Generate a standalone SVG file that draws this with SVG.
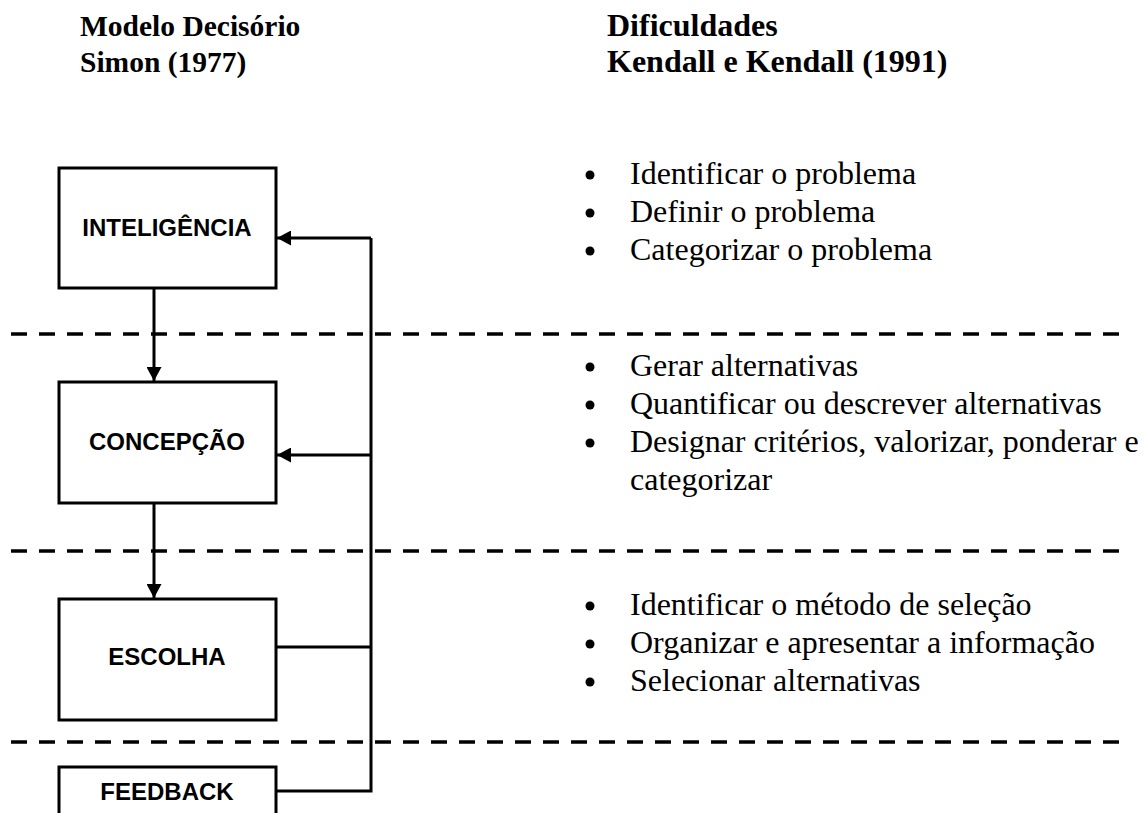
<svg xmlns="http://www.w3.org/2000/svg" width="1145" height="813" viewBox="0 0 1145 813">
<style>
.hdr{font-family:"Liberation Serif","Times New Roman",serif;font-weight:bold;font-size:32px;fill:#000}
.hdl{font-size:29.5px}
.bul{font-family:"Liberation Serif","Times New Roman",serif;font-size:32px;fill:#000}
.lbl{font-family:"Liberation Sans",Arial,sans-serif;font-weight:bold;font-size:24px;fill:#000;text-anchor:middle}
.box{fill:#fff;stroke:#000;stroke-width:3}
.ln{fill:none;stroke:#000;stroke-width:3}
.dash{fill:none;stroke:#000;stroke-width:3.5;stroke-dasharray:16 12}
</style>
<defs>
<marker id="ah" viewBox="0 0 10 10" refX="10" refY="5" markerWidth="14" markerHeight="15" markerUnits="userSpaceOnUse" orient="auto" preserveAspectRatio="none">
<path d="M0,0 L10,5 L0,10 z" fill="#000"/>
</marker>
</defs>
<rect width="1145" height="813" fill="#fff"/>
<g id="headers">
<text class="hdr hdl" x="80" y="36">Modelo Decisório</text>
<text class="hdr hdl" x="80" y="72">Simon (1977)</text>
<text class="hdr" x="607" y="36">Dificuldades</text>
<text class="hdr" x="607" y="72">Kendall e Kendall (1991)</text>
</g>
<g id="separators">
<line class="dash" x1="11" y1="334" x2="1120" y2="334"/>
<line class="dash" x1="11" y1="551" x2="1120" y2="551"/>
<line class="dash" x1="11" y1="742" x2="1120" y2="742"/>
</g>
<g id="connectors">
<line class="ln" x1="154" y1="288" x2="154" y2="381" marker-end="url(#ah)"/>
<line class="ln" x1="154" y1="503" x2="154" y2="598" marker-end="url(#ah)"/>
<polyline class="ln" points="276,791 371,791 371,238"/>
<line class="ln" x1="371" y1="238" x2="277" y2="238" marker-end="url(#ah)"/>
<line class="ln" x1="371" y1="455" x2="277" y2="455" marker-end="url(#ah)"/>
<line class="ln" x1="276" y1="647" x2="371" y2="647"/>
</g>
<g id="inteligencia">
<rect class="box" x="59" y="168" width="217" height="120"/>
<text class="lbl" x="167" y="236">INTELIGÊNCIA</text>
</g>
<g id="concepcao">
<rect class="box" x="59" y="382" width="217" height="121"/>
<text class="lbl" x="167" y="450">CONCEPÇÃO</text>
</g>
<g id="escolha">
<rect class="box" x="59" y="599" width="217" height="121"/>
<text class="lbl" x="167" y="665">ESCOLHA</text>
</g>
<g id="feedback">
<rect class="box" x="59" y="767" width="217" height="60"/>
<text class="lbl" x="167" y="800">FEEDBACK</text>
</g>
<g id="list1">
<circle cx="590" cy="175" r="4.5"/><text class="bul" x="630" y="184">Identificar o problema</text>
<circle cx="590" cy="213" r="4.5"/><text class="bul" x="630" y="222">Definir o problema</text>
<circle cx="590" cy="251" r="4.5"/><text class="bul" x="630" y="260">Categorizar o problema</text>
</g>
<g id="list2">
<circle cx="590" cy="367" r="4.5"/><text class="bul" x="630" y="376">Gerar alternativas</text>
<circle cx="590" cy="405" r="4.5"/><text class="bul" x="630" y="414">Quantificar ou descrever alternativas</text>
<circle cx="590" cy="443" r="4.5"/><text class="bul" x="630" y="452">Designar critérios, valorizar, ponderar e</text>
<text class="bul" x="630" y="490">categorizar</text>
</g>
<g id="list3">
<circle cx="590" cy="606" r="4.5"/><text class="bul" x="630" y="615">Identificar o método de seleção</text>
<circle cx="590" cy="644" r="4.5"/><text class="bul" x="630" y="653">Organizar e apresentar a informação</text>
<circle cx="590" cy="682" r="4.5"/><text class="bul" x="630" y="691">Selecionar alternativas</text>
</g>
</svg>
